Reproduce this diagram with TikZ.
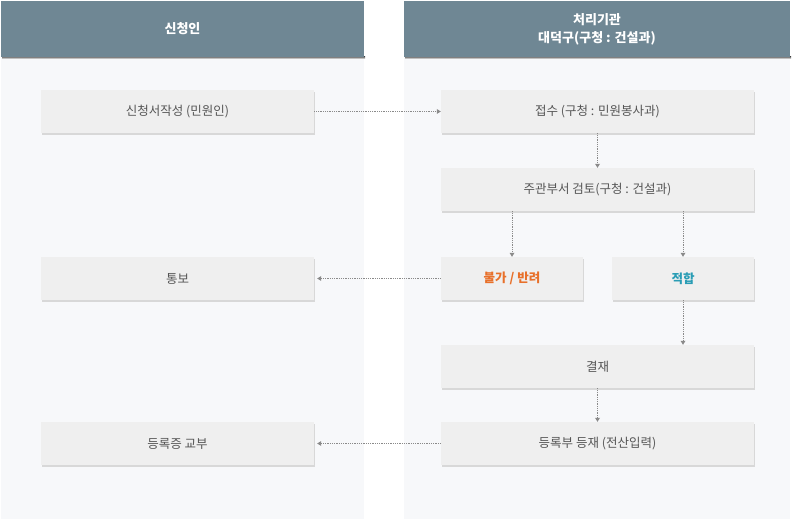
\documentclass[tikz,border=0pt]{standalone}
\usepackage{fontspec}
\setmainfont{Noto Sans CJK KR}
\usetikzlibrary{arrows.meta}
\definecolor{hdr}{HTML}{6F8794}
\definecolor{colbg}{HTML}{F7F8FA}
\definecolor{boxbg}{HTML}{EFEFEF}
\definecolor{shade}{HTML}{D8D8D8}
\definecolor{txt}{HTML}{555555}
\definecolor{orng}{HTML}{E8702A}
\definecolor{teal}{HTML}{2A9DB5}
\definecolor{arr}{HTML}{8A8A8A}
\tikzset{
  x=1pt, y=-1pt,
  stepbox/.style={fill=boxbg, text=txt, minimum height=43pt, inner sep=0pt,
     font=\fontsize{12.5}{15}\selectfont,
     preaction={fill=shade, transform canvas={shift={(1pt,-2pt)}}}},
  wide/.style={stepbox, minimum width=273pt},
  wider/.style={stepbox, minimum width=313pt},
  narrow/.style={stepbox, minimum width=142pt},
  hdrtext/.style={text=white, font=\fontsize{13}{18}\selectfont\bfseries, align=center},
  conn/.style={draw=arr, densely dotted, line width=0.8pt,
     -{Triangle[width=5pt,length=4pt,line width=0pt,fill=arr]}}
}
\begin{document}
\begin{tikzpicture}
\useasboundingbox (0,0) rectangle (793,521);
\fill[white] (0,0) rectangle (793,521);
% columns
\fill[colbg] (1,57) rectangle (364,519);
\fill[colbg] (404,57) rectangle (790,519);
\fill[shade] (2,57) rectangle (365,59);
\fill[shade] (405,57) rectangle (791,59);
\fill[hdr] (1,1) rectangle (364,57);
\fill[hdr] (404,1) rectangle (790,57);
\node[hdrtext] (h1) at (182.5,29) {신청인};
\node[hdrtext] (h2) at (597,29) {처리기관\\대덕구(구청 : 건설과)};
% boxes
\node[wide] (apply) at (177.5,111.5) {신청서작성 (민원인)};
\node[wide] (notify) at (177.5,278.5) {통보};
\node[wide] (issue) at (177.5,443.5) {등록증 교부};
\node[wider] (recv) at (597.5,111.5) {접수 (구청 : 민원봉사과)};
\node[wider] (review) at (597.5,189.5) {주관부서 검토(구청 : 건설과)};
\node[narrow, text=orng] (reject) at (512,278.5) {\bfseries 불가 / 반려};
\node[narrow, text=teal] (ok) at (683,278.5) {\bfseries 적합};
\node[wider] (approve) at (597.5,366.5) {결재};
\node[wider] (reg) at (597.5,443.5) {등록부 등재 (전산입력)};
% connectors
\draw[conn] (apply.east) -- (recv.west);
\draw[conn] (recv.south) -- (review.north);
\draw[conn] (review.south -| reject.north) -- (reject.north);
\draw[conn] (review.south -| ok.north) -- (ok.north);
\draw[conn] (ok.south) -- (approve.north -| ok.south);
\draw[conn] (approve.south) -- (reg.north);
\draw[conn] (reject.west) -- ([xshift=3pt]notify.east);
\draw[conn] (reg.west) -- ([xshift=3pt]issue.east);
\end{tikzpicture}
\end{document}
